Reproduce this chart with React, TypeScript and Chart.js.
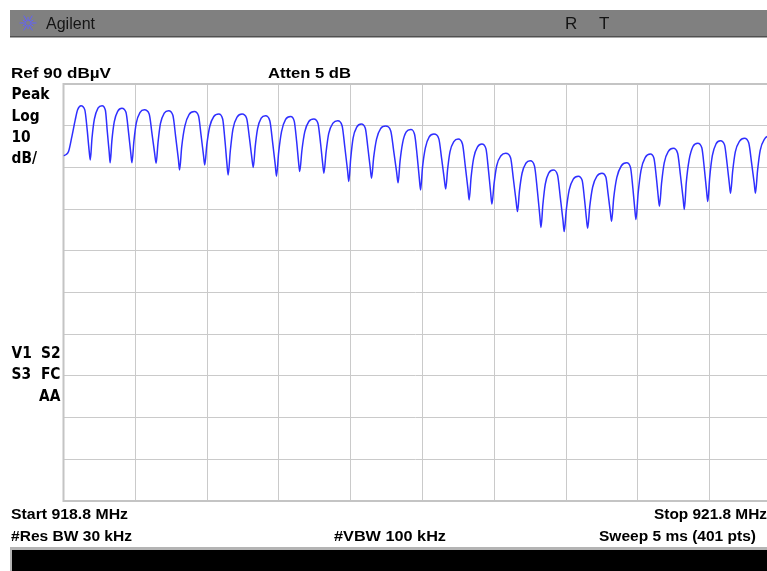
import React, { useEffect, useRef } from "react";
import { Chart, registerables } from "chart.js";

Chart.register(...registerables);

// ---- Instrument settings (text shown on screen) ----
const headerBrand = "Agilent";
const headerFlags = ["R", "T"];
const refText = "Ref 90 dBµV";
const attenText = "Atten 5 dB";
const scaleLines = ["Peak", "Log", "10", "dB/"];
const statusRows = [["V1", "S2"], ["S3", "FC"], ["", "AA"]];
const startText = "Start 918.8 MHz";
const stopText = "Stop 921.8 MHz";
const rbwText = "#Res BW 30 kHz";
const vbwText = "#VBW 100 kHz";
const sweepText = "Sweep 5 ms (401 pts)";

// ---- Axes: frequency offset from 918.8 MHz (kHz), level in dBµV ----
const refLevel = 90;
const bottomLevel = -10;
const xGridKHz = [0, 300, 600, 900, 1200, 1500, 1800, 2100, 2400, 2700, 3000];
const yGridDbuv = [90, 80, 70, 60, 50, 40, 30, 20, 10, 0, -10];
const visibleSpanKHz = 2939.4; // the screen capture is cropped just before 921.8 MHz

// ---- Trace ----
const offsetKHz = [
  0, 11, 21, 35, 49, 59, 73, 89, 99, 107, 112,
  119, 129, 144, 161, 175, 183, 191, 195,
  202, 212, 227, 244, 261, 272, 281, 286,
  294, 304, 320, 338, 358, 370, 381, 387,
  395, 405, 421, 439, 457, 469, 480, 485,
  494, 507, 525, 547, 564, 575, 585, 590,
  599, 611, 628, 649, 665, 675, 683, 688,
  697, 708, 726, 746, 765, 777, 787, 793,
  801, 811, 826, 844, 862, 874, 885, 890,
  899, 911, 928, 949, 964, 974, 982, 987,
  996, 1008, 1025, 1046, 1063, 1074, 1083, 1088,
  1097, 1108, 1126, 1146, 1164, 1176, 1187, 1192,
  1200, 1210, 1226, 1244, 1261, 1272, 1282, 1287,
  1296, 1308, 1325, 1346, 1367, 1380, 1392, 1398,
  1406, 1417, 1432, 1451, 1467, 1478, 1487, 1492,
  1500, 1512, 1528, 1548, 1568, 1580, 1591, 1597,
  1605, 1615, 1631, 1649, 1667, 1679, 1690, 1695,
  1703, 1714, 1730, 1748, 1765, 1776, 1785, 1790,
  1799, 1810, 1828, 1848, 1868, 1880, 1891, 1897,
  1905, 1916, 1932, 1950, 1968, 1980, 1990, 1995,
  2003, 2013, 2028, 2046, 2064, 2076, 2087, 2092,
  2101, 2113, 2130, 2151, 2167, 2177, 2185, 2190,
  2199, 2211, 2229, 2250, 2266, 2276, 2285, 2290,
  2299, 2312, 2331, 2353, 2369, 2379, 2387, 2392,
  2401, 2413, 2431, 2452, 2467, 2477, 2485, 2490,
  2499, 2510, 2528, 2548, 2566, 2578, 2589, 2594,
  2602, 2614, 2630, 2650, 2667, 2678, 2687, 2692,
  2700, 2711, 2727, 2745, 2762, 2773, 2782, 2787,
  2796, 2807, 2825, 2845, 2863, 2875, 2886, 2891,
  2900, 2911, 2929, 2949, 2966, 2977, 2987, 3000,
];

const levelDbuv = [
  72.8, 73.1, 73.8, 77.4, 81.4, 83.8, 84.8, 83.8, 79.0, 74.1, 71.8,
  77.0, 81.6, 84.2, 84.8, 83.7, 78.6, 73.6, 71.1,
  76.3, 80.9, 83.5, 84.2, 83.2, 78.3, 73.5, 71.1,
  76.2, 80.6, 83.2, 83.8, 82.8, 78.0, 73.3, 71.0,
  76.0, 80.5, 83.0, 83.6, 82.5, 77.2, 72.0, 69.4,
  75.0, 79.9, 82.7, 83.4, 82.4, 77.6, 72.9, 70.6,
  75.5, 79.8, 82.2, 82.8, 81.6, 76.2, 70.8, 68.2,
  74.0, 79.2, 82.1, 82.8, 81.8, 77.0, 72.3, 70.0,
  75.0, 79.3, 81.8, 82.4, 81.2, 75.9, 70.5, 67.9,
  73.6, 78.6, 81.5, 82.2, 81.1, 76.3, 71.4, 69.0,
  74.0, 78.5, 81.0, 81.6, 80.6, 75.8, 70.9, 68.6,
  73.6, 78.1, 80.6, 81.2, 80.0, 74.6, 69.2, 66.6,
  72.1, 77.0, 79.7, 80.4, 79.4, 74.6, 69.7, 67.4,
  72.4, 76.8, 79.3, 79.9, 78.8, 73.8, 68.8, 66.3,
  71.4, 75.9, 78.5, 79.1, 77.9, 72.6, 67.2, 64.6,
  70.0, 74.7, 77.3, 78.0, 76.9, 72.1, 67.2, 64.8,
  69.6, 73.8, 76.2, 76.8, 75.6, 70.2, 64.8, 62.2,
  67.6, 72.3, 74.9, 75.6, 74.5, 69.1, 63.8, 61.2,
  66.1, 70.4, 72.8, 73.4, 72.3, 67.1, 61.9, 59.4,
  64.3, 68.6, 71.0, 71.6, 70.3, 64.4, 58.5, 55.6,
  61.1, 66.0, 68.7, 69.4, 68.2, 62.7, 57.3, 54.6,
  59.9, 64.6, 67.2, 67.9, 66.9, 62.3, 57.7, 55.4,
  60.7, 65.3, 67.9, 68.6, 67.7, 63.4, 59.2, 57.1,
  62.7, 67.6, 70.4, 71.1, 70.0, 65.0, 60.0, 57.5,
  63.8, 69.3, 72.4, 73.2, 72.2, 67.6, 63.0, 60.7,
  66.3, 71.1, 73.9, 74.6, 73.4, 68.0, 62.5, 59.9,
  66.3, 71.8, 75.0, 75.8, 74.7, 69.5, 64.3, 61.8,
  67.6, 72.8, 75.7, 76.4, 75.4, 70.7, 66.1, 63.8,
  69.1, 73.7, 76.3, 77.0, 75.9, 71.1, 66.2, 63.8,
  69.3, 74.1, 76.8, 77.5, 76.5, 71.5, 66.5, 64.0,
];

const W = 767;
const H = 571;

const NARROW = '"Liberation Sans Narrow", "Liberation Sans", Arial, sans-serif';
const WIDE = '"DejaVu Sans", Verdana, sans-serif';

function drawText(
  ctx: CanvasRenderingContext2D,
  s: string,
  x: number,
  y: number,
  font: string,
  opts: { width?: number; scale?: number; align?: "left" | "right"; color?: string } = {}
) {
  ctx.save();
  ctx.font = font;
  const m = ctx.measureText(s).width;
  const sx = opts.width ? opts.width / m : opts.scale ?? 1;
  const x0 = opts.align === "right" ? x - m * sx : x;
  ctx.translate(x0, y);
  ctx.scale(sx, 1);
  ctx.textAlign = "left";
  ctx.textBaseline = "alphabetic";
  ctx.fillStyle = opts.color ?? "#000";
  ctx.fillText(s, 0, 0);
  ctx.restore();
}

const screenPlugin = {
  id: "screen",
  beforeDraw(chart: any) {
    const ctx: CanvasRenderingContext2D = chart.ctx;
    ctx.save();
    ctx.fillStyle = "#ffffff";
    ctx.fillRect(0, 0, W, H);
    // header bar
    ctx.fillStyle = "#808080";
    ctx.fillRect(10, 10, W - 10, 27);
    ctx.fillStyle = "#505050";
    ctx.fillRect(10, 36, W - 10, 1.5);
    // bottom message bar
    ctx.fillStyle = "#b4b4b4";
    ctx.fillRect(10, 547, W - 10, H - 547);
    ctx.fillStyle = "#000000";
    ctx.fillRect(12, 550, W - 12, H - 550);
    ctx.restore();
  },
  beforeDatasetsDraw(chart: any) {
    const ctx: CanvasRenderingContext2D = chart.ctx;
    const a = chart.chartArea;
    ctx.save();
    ctx.strokeStyle = "#c4c4c4";
    ctx.lineWidth = 2;
    ctx.beginPath();
    ctx.moveTo(W + 5, a.top);
    ctx.lineTo(a.left, a.top);
    ctx.lineTo(a.left, a.bottom);
    ctx.lineTo(W + 5, a.bottom);
    ctx.stroke();
    ctx.restore();
  },
  afterDraw(chart: any) {
    const ctx: CanvasRenderingContext2D = chart.ctx;
    ctx.save();
    // logo
    const cx = 28, cy = 23;
    ctx.strokeStyle = "#6060ff";
    ctx.lineWidth = 1;
    for (let k = 0; k < 12; k++) {
      const t = (k * Math.PI) / 6;
      ctx.beginPath();
      ctx.moveTo(cx + Math.cos(t) * 2, cy + Math.sin(t) * 2);
      ctx.lineTo(cx + Math.cos(t) * (k % 2 ? 6 : 8.5), cy + Math.sin(t) * (k % 2 ? 6 : 8.5));
      ctx.stroke();
    }
    ctx.restore();

    drawText(ctx, headerBrand, 46, 29, '16px "Liberation Sans", Arial, sans-serif', { width: 49, color: "#141414" });
    drawText(ctx, headerFlags[0], 565, 29, '17px "Liberation Sans", Arial, sans-serif', { color: "#141414" });
    drawText(ctx, headerFlags[1], 599, 29, '17px "Liberation Sans", Arial, sans-serif', { color: "#141414" });

    const nb = "bold 15px " + NARROW;
    drawText(ctx, refText, 11, 78, nb, { width: 100 });
    drawText(ctx, attenText, 268, 78, nb, { width: 83 });

    const wb = "bold 15px " + WIDE;
    ctx.font = wb;
    const sc = 38 / ctx.measureText("Peak").width;
    const baselines = [98.5, 120.5, 141.5, 162.5];
    scaleLines.forEach((s, i) => drawText(ctx, s, 11.5, baselines[i], wb, { scale: sc }));
    const sb = [357.5, 378.5, 400.5];
    statusRows.forEach((row, i) => {
      if (row[0]) drawText(ctx, row[0], 11.5, sb[i], wb, { scale: sc });
      drawText(ctx, row[1], 60.5, sb[i], wb, { scale: sc, align: "right" });
    });

    drawText(ctx, startText, 11, 519, nb, { width: 117 });
    drawText(ctx, stopText, 767, 519, nb, { width: 113, align: "right" });
    drawText(ctx, rbwText, 11, 541, nb, { width: 121 });
    drawText(ctx, vbwText, 334, 541, nb, { width: 112 });
    drawText(ctx, sweepText, 756, 541, nb, { width: 157, align: "right" });
  },
};

export default function App() {
  const ref = useRef<HTMLCanvasElement | null>(null);

  useEffect(() => {
    if (!ref.current) return;
    const chart = new Chart(ref.current, {
      type: "line",
      data: {
        datasets: [
          {
            data: offsetKHz.map((x, i) => ({ x, y: levelDbuv[i] })),
            borderColor: "#2f2fff",
            borderWidth: 1.5,
            pointRadius: 0,
            cubicInterpolationMode: "monotone",
            fill: false,
          },
        ],
      },
      options: {
        responsive: false,
        animation: false,
        devicePixelRatio: 1,
        events: [],
        layout: { padding: { left: 63.5, right: 0, top: 84, bottom: 70 } },
        plugins: {
          legend: { display: false },
          tooltip: { enabled: false },
          title: { display: false },
        },
        scales: {
          x: {
            type: "linear",
            min: 0,
            max: visibleSpanKHz,
            afterBuildTicks: (s: any) => {
              s.ticks = xGridKHz.filter((v) => v <= visibleSpanKHz).map((v) => ({ value: v }));
            },
            ticks: { display: false },
            grid: { color: "#cacaca", lineWidth: 1, drawTicks: false },
            border: { display: false },
          },
          y: {
            type: "linear",
            min: bottomLevel,
            max: refLevel,
            afterBuildTicks: (s: any) => {
              s.ticks = yGridDbuv.map((v) => ({ value: v }));
            },
            ticks: { display: false },
            grid: { color: "#cacaca", lineWidth: 1, drawTicks: false },
            border: { display: false },
          },
        },
      },
      plugins: [screenPlugin],
    } as any);
    return () => chart.destroy();
  }, []);

  return (
    <div
      style={{
        position: "fixed",
        left: 0,
        top: 0,
        width: W,
        height: H,
        overflow: "hidden",
        background: "#fff",
      }}
    >
      <canvas ref={ref} width={W} height={H} style={{ display: "block", width: W, height: H }} />
    </div>
  );
}
